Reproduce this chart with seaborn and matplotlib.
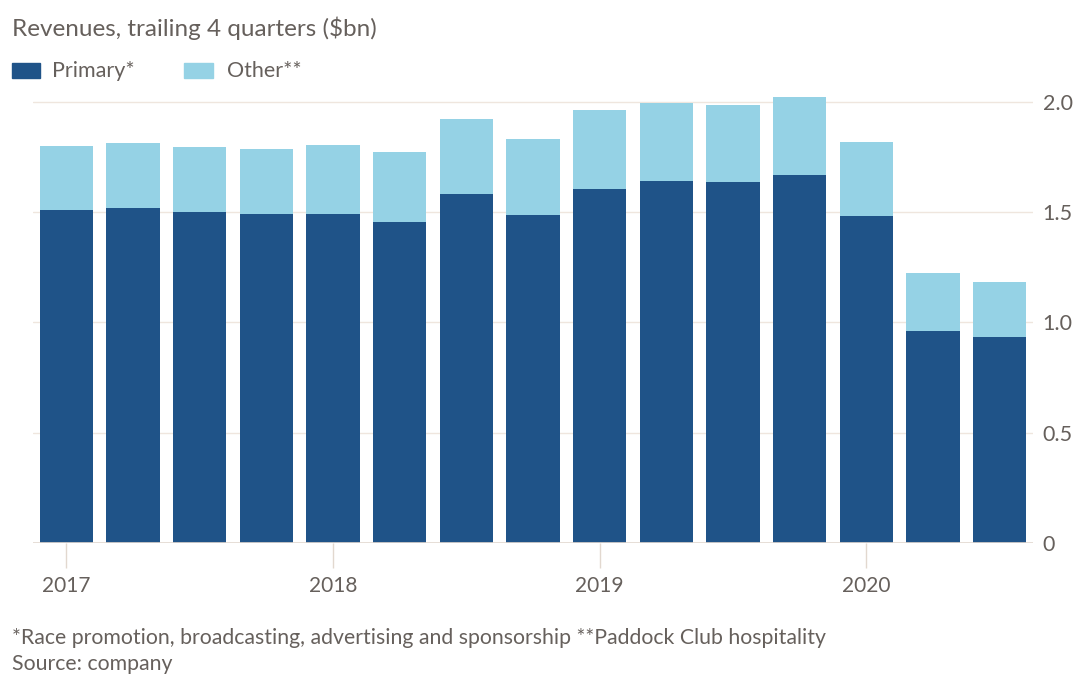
import matplotlib
matplotlib.use("Agg")
import matplotlib.pyplot as plt
from matplotlib.patches import Rectangle
import seaborn as sns
import pandas as pd

# Trailing four-quarter revenues, $bn
quarters = ["2017 Q1", "2017 Q2", "2017 Q3", "2017 Q4",
            "2018 Q1", "2018 Q2", "2018 Q3", "2018 Q4",
            "2019 Q1", "2019 Q2", "2019 Q3", "2019 Q4",
            "2020 Q1", "2020 Q2", "2020 Q3"]
primary = [1.51, 1.52, 1.50, 1.49, 1.49, 1.457, 1.585, 1.489,
           1.604, 1.643, 1.636, 1.668, 1.483, 0.962, 0.932]
other = [0.29, 0.295, 0.295, 0.297, 0.315, 0.316, 0.337, 0.342,
         0.359, 0.354, 0.349, 0.357, 0.336, 0.261, 0.253]
year_labels = ["2017", "2018", "2019", "2020"]
year_positions = [0, 4, 8, 12]
y_ticks = [0, 0.5, 1.0, 1.5, 2.0]
y_tick_labels = ["0", "0.5", "1.0", "1.5", "2.0"]

df = pd.DataFrame({"quarter": quarters, "primary": primary, "other": other})
df["total"] = df["primary"] + df["other"]

DARK = "#1f5388"
LIGHT = "#95d2e5"
TEXT = "#66605c"
GRID = "#efe6de"
BASE = "#e2d8cf"

sns.set_theme(style="white")
plt.rcParams["font.family"] = ["Lato", "DejaVu Sans"]

fig = plt.figure(figsize=(10.81, 6.77), dpi=100)
ax = fig.add_axes([0.0305, 0.1984, 0.925, 0.667])

sns.barplot(data=df, x="quarter", y="total", color=LIGHT, width=0.8,
            saturation=1, ax=ax, zorder=2, edgecolor="none")
sns.barplot(data=df, x="quarter", y="primary", color=DARK, width=0.8,
            saturation=1, ax=ax, zorder=3, edgecolor="none")

ax.set_xlim(-0.5, 14.5)
ax.set_ylim(0, 2.05)
ax.set_xlabel("")
ax.set_ylabel("")

for spine in ax.spines.values():
    spine.set_visible(False)

ax.yaxis.tick_right()
ax.set_yticks(y_ticks)
ax.set_yticklabels(y_tick_labels)
for y in y_ticks[1:]:
    ax.axhline(y, color=GRID, lw=1.0, zorder=1)
ax.axhline(0, color=BASE, lw=1.2, zorder=4)
ax.tick_params(axis="y", length=0, pad=7, labelsize=15.5, labelcolor=TEXT)

ax.set_xticks(year_positions)
ax.set_xticklabels(year_labels)
ax.tick_params(axis="x", length=18, width=1.0, color=BASE, pad=6,
               labelsize=15, labelcolor=TEXT, bottom=True)

fig.text(0.011, 0.958, "Revenues, trailing 4 quarters ($bn)", fontsize=17.5,
         color=TEXT, va="center", ha="left")

# Legend drawn as swatches in figure coordinates
W, H = 1081, 677
def swatch(x0, x1, color):
    fig.patches.append(Rectangle((x0 / W, 1 - 78 / H), (x1 - x0) / W, 15 / H,
                                 transform=fig.transFigure, color=color))
swatch(12, 40, DARK)
fig.text(52 / W, 1 - 71 / H, "Primary*", fontsize=15.5, color=TEXT,
         va="center", ha="left")
swatch(184, 213, LIGHT)
fig.text(227 / W, 1 - 71 / H, "Other**", fontsize=15.5, color=TEXT,
         va="center", ha="left")

fig.text(0.011, 1 - 638 / H,
         "*Race promotion, broadcasting, advertising and sponsorship **Paddock Club hospitality",
         fontsize=15.3, color=TEXT, va="center", ha="left")
fig.text(0.011, 1 - 664 / H, "Source: company", fontsize=15.3, color=TEXT,
         va="center", ha="left")

fig.savefig("out.png", dpi=100, facecolor="white")
